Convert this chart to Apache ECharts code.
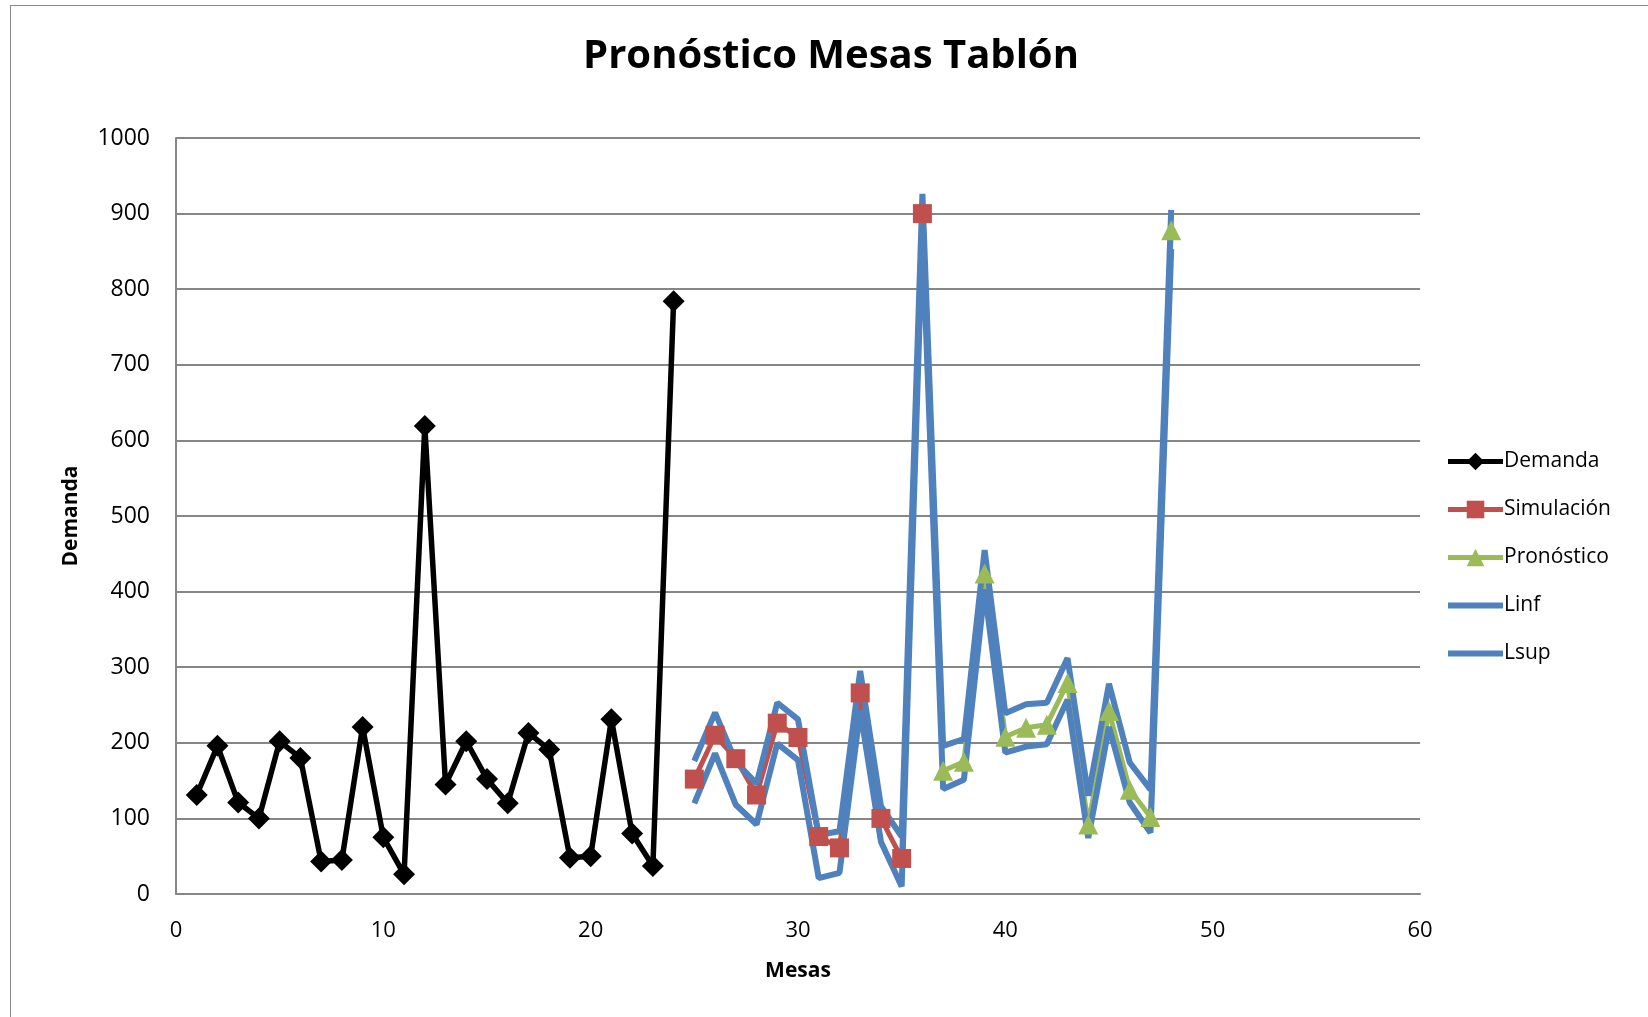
<!DOCTYPE html>
<html>
<head>
<meta charset="utf-8">
<title>Pronóstico Mesas Tablón</title>
<script src="https://cdn.jsdelivr.net/npm/echarts@6/dist/echarts.min.js"></script>
<style>
    html, body {
        margin: 0;
        padding: 0;
        background: #fff;
    }
    .echarts-box {
        width: 1648px;
        height: 1017px;
    }
    .frame {
        position: absolute;
        left: 10px;
        top: 5px;
        width: 1700px;
        height: 1100px;
        border: 1px solid #8a8a8a;
        pointer-events: none;
    }
</style>
</head>
<body>
<div class="echarts-box" id="chart"></div>
<div class="frame"></div>
<script>
    // meses 1..24
    const demanda = [131, 196, 121, 100, 202, 180, 43, 45, 221, 75, 26, 619,
        145, 202, 152, 120, 213, 191, 48, 50, 231, 80, 37, 784]
    // meses 25..36
    const simulacion = [152, 210, 179, 131, 226, 207, 76, 61, 266, 100, 47, 900]
    // meses 37..48
    const pronostico = [163, 175, 424, 208, 220, 224, 279, 92, 242, 138, 102, 878]
    // meses 25..48
    const linf = [120, 186, 118, 92, 199, 177, 21, 28, 243, 69, 10, 875,
        139, 151, 403, 187, 195, 198, 257, 74, 221, 121, 81, 853]
    const lsup = [176, 240, 175, 146, 253, 231, 78, 83, 295, 116, 76, 926,
        196, 205, 455, 239, 251, 253, 312, 130, 278, 174, 138, 905]

    const xTicks = [0, 10, 20, 30, 40, 50, 60]
    const yTicks = [0, 100, 200, 300, 400, 500, 600, 700, 800, 900, 1000]

    function toPoints(values, firstMonth) {
        return values.map((v, i) => [firstMonth + i, v])
    }

    const font = '"Open Sans", "Noto Sans", sans-serif'
    const gridColor = '#868686'
    const colors = ['#000000', '#C0504D', '#9BBB59', '#4F81BD']

    const chart = echarts.init(document.getElementById('chart'))
    const options = {
        animation: false,
        textStyle: { fontFamily: font },
        title: {
            text: 'Pronóstico Mesas Tablón',
            left: 826,
            textAlign: 'center',
            top: 32,
            textStyle: {
                fontFamily: font,
                fontSize: 40,
                fontWeight: 'bold',
                color: '#000'
            }
        },
        grid: {
            left: 176,
            right: 228,
            top: 138,
            bottom: 123,
            containLabel: false
        },
        legend: {
            orient: 'vertical',
            left: 1440,
            top: 444,
            itemWidth: 55,
            itemHeight: 22,
            itemGap: 23,
            textStyle: {
                fontFamily: font,
                fontSize: 21,
                color: '#000',
                lineHeight: 25,
                padding: [0, 0, 0, -4]
            },
            data: [
                { name: 'Demanda', lineStyle: { width: 5 } },
                { name: 'Simulación', lineStyle: { width: 5 } },
                { name: 'Pronóstico', lineStyle: { width: 5 } },
                { name: 'Linf', lineStyle: { width: 6 }, itemStyle: { opacity: 0 } },
                { name: 'Lsup', lineStyle: { width: 6 }, itemStyle: { opacity: 0 } }
            ]
        },
        xAxis: {
            type: 'value',
            min: xTicks[0],
            max: xTicks[xTicks.length - 1],
            interval: 10,
            name: 'Mesas',
            nameLocation: 'middle',
            nameGap: 67,
            nameTextStyle: {
                fontFamily: font,
                fontSize: 21,
                fontWeight: 'bold',
                color: '#000'
            },
            axisLine: { show: true, lineStyle: { color: gridColor, width: 2 } },
            axisTick: { show: false },
            splitLine: { show: false },
            axisLabel: {
                fontFamily: font,
                fontSize: 22,
                color: '#000',
                margin: 26
            }
        },
        yAxis: {
            type: 'value',
            min: yTicks[0],
            max: yTicks[yTicks.length - 1],
            interval: 100,
            name: 'Demanda',
            nameLocation: 'middle',
            nameGap: 94,
            nameTextStyle: {
                fontFamily: font,
                fontSize: 21,
                fontWeight: 'bold',
                color: '#000'
            },
            axisLine: { show: true, lineStyle: { color: gridColor, width: 2 } },
            axisTick: { show: false },
            splitLine: { show: true, lineStyle: { color: gridColor, width: 2 } },
            axisLabel: {
                fontFamily: font,
                fontSize: 23,
                color: '#000',
                margin: 26,
                formatter: v => String(v)
            }
        },
        series: [
            {
                name: 'Demanda',
                type: 'line',
                data: toPoints(demanda, 1),
                symbol: 'diamond',
                symbolSize: 22,
                itemStyle: { color: colors[0] },
                lineStyle: { color: colors[0], width: 5.5 }
            },
            {
                name: 'Simulación',
                type: 'line',
                data: toPoints(simulacion, 25),
                symbol: 'rect',
                symbolSize: 19,
                itemStyle: { color: colors[1] },
                lineStyle: { color: colors[1], width: 5 }
            },
            {
                name: 'Pronóstico',
                type: 'line',
                data: toPoints(pronostico, 37),
                symbol: 'triangle',
                symbolSize: 20,
                itemStyle: { color: colors[2] },
                lineStyle: { color: colors[2], width: 5 }
            },
            {
                name: 'Linf',
                type: 'line',
                data: toPoints(linf, 25),
                symbol: 'none',
                itemStyle: { color: colors[3] },
                lineStyle: { color: colors[3], width: 6 }
            },
            {
                name: 'Lsup',
                type: 'line',
                data: toPoints(lsup, 25),
                symbol: 'none',
                itemStyle: { color: colors[3] },
                lineStyle: { color: colors[3], width: 6 }
            }
        ]
    }
    chart.setOption(options)
</script>
</body>
</html>
